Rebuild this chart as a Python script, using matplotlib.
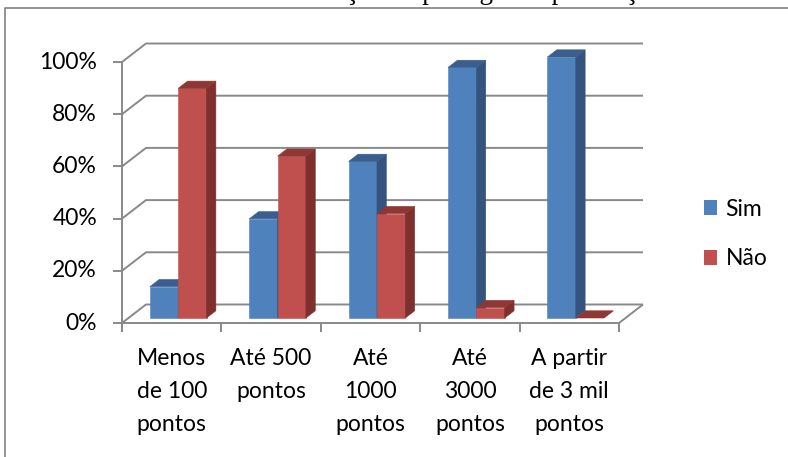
import matplotlib.pyplot as plt
from matplotlib.patches import Polygon, Patch
from matplotlib.lines import Line2D

# dados do gráfico
categorias = ["Menos\nde 100\npontos", "Até 500\npontos", "Até\n1000\npontos",
              "Até\n3000\npontos", "A partir\nde 3 mil\npontos"]
sim = [0.12, 0.38, 0.60, 0.96, 1.00]
nao = [0.88, 0.62, 0.40, 0.04, 0.00]
series = ["Sim", "Não"]
ticks_y = [0.0, 0.2, 0.4, 0.6, 0.8, 1.0]
rotulos_y = ["0%", "20%", "40%", "60%", "80%", "100%"]
titulo = "Gráfico – Relação de postagem e pontuação"

# cores (frente, lateral, topo)
cores = [("#4F81BD", "#34547F", "#3A5F8E"),
         ("#C0504D", "#7E302E", "#8F3734")]
cinza = "#898989"
FONTE = ["Lato", "DejaVu Sans"]
TAM = 16.5

W, H = 788, 457
fig = plt.figure(figsize=(W / 100, H / 100), dpi=100)
ax = fig.add_axes([0, 0, 1, 1])
ax.axis("off")

# escala: 1 categoria = 99.4 px, 100% = 261 px; origem da frente em (122, 323)
PX_CAT, PX_VAL, X0, Y0 = 99.4, 261.0, 122, 323
ax.set_xlim(-X0 / PX_CAT, (W - X0) / PX_CAT)
ax.set_ylim((Y0 - H) / PX_VAL, Y0 / PX_VAL)

# profundidade (perspectiva oblíqua)
DX = 24 / PX_CAT
DY = 18.5 / PX_VAL
n = len(categorias)


def proj(x, v, d):
    return (x + d * DX, v + d * DY)


def poli(pts, cor, z):
    ax.add_patch(Polygon([proj(*p) for p in pts], closed=True, facecolor=cor,
                         edgecolor=cor, lw=0.4, zorder=z))


# moldura externa
fig.add_artist(Line2D([5 / W, 5 / W, 1], [0, 1 - 8 / H, 1 - 8 / H],
                      transform=fig.transFigure, color="#8a8a8a", lw=1.3))

# título (cortado no topo)
fig.text(186 / W, 1 + 1 / H, titulo, ha="left", va="baseline",
         family="Liberation Serif", fontsize=19.5, color="black")

kw = dict(color=cinza, lw=1.4, solid_capstyle="butt", zorder=1)

# parede de fundo e parede lateral
for t, rot in zip(ticks_y, rotulos_y):
    a, b, c = proj(0, t, 0), proj(0, t, 1), proj(n, t, 1)
    ax.plot([a[0], b[0], c[0]], [a[1], b[1], c[1]], **kw)
    # marcas do eixo y
    ax.plot([-9 / PX_CAT, 0], [t, t], **kw)
    ax.text(-25 / PX_CAT, t, rot, ha="right", va="center", family=FONTE,
            fontsize=TAM, color="black")

# eixo vertical da frente
ax.plot([0, 0], [-8 / PX_VAL, 1], **kw)

# piso
fr, br = proj(n, 0, 0), proj(n, 0, 1)
ax.plot([0, fr[0], br[0]], [0, fr[1], br[1]], **kw)
for i in range(n + 1):
    ax.plot([i, i], [0, -9 / PX_VAL], **kw)

# barras 3D
larg = 0.285
d0, d1 = 0.27, 0.66
desl = (1 - 2 * larg) / 2
for i in range(n):
    for s, valores in enumerate([sim, nao]):
        v = valores[i]
        xa = i + desl + s * larg
        xb = xa + larg
        frente, lado, topo = cores[s]
        z = 2 + i * 2 + s
        if v > 0:
            poli([(xa, 0, d0), (xb, 0, d0), (xb, v, d0), (xa, v, d0)], frente, z)
            poli([(xb, 0, d0), (xb, 0, d1), (xb, v, d1), (xb, v, d0)], lado, z)
        poli([(xa, v, d0), (xb, v, d0), (xb, v, d1), (xa, v, d1)], topo, z)

# rótulos das categorias
for i, rot in enumerate(categorias):
    ax.text(i + 0.5, -25 / PX_VAL, rot, ha="center", va="top", family=FONTE,
            fontsize=TAM, color="black", linespacing=1.7)

# legenda
handles = [Patch(facecolor=cores[k][0], edgecolor="none") for k in range(2)]
fig.legend(handles, series, loc="center left",
           bbox_to_anchor=(683 / W, 1 - 234 / H), frameon=False,
           prop={"family": FONTE, "size": TAM}, handlelength=0.6,
           handleheight=0.6, handletextpad=0.35, labelspacing=1.25)

fig.savefig("out.png", dpi=100)
